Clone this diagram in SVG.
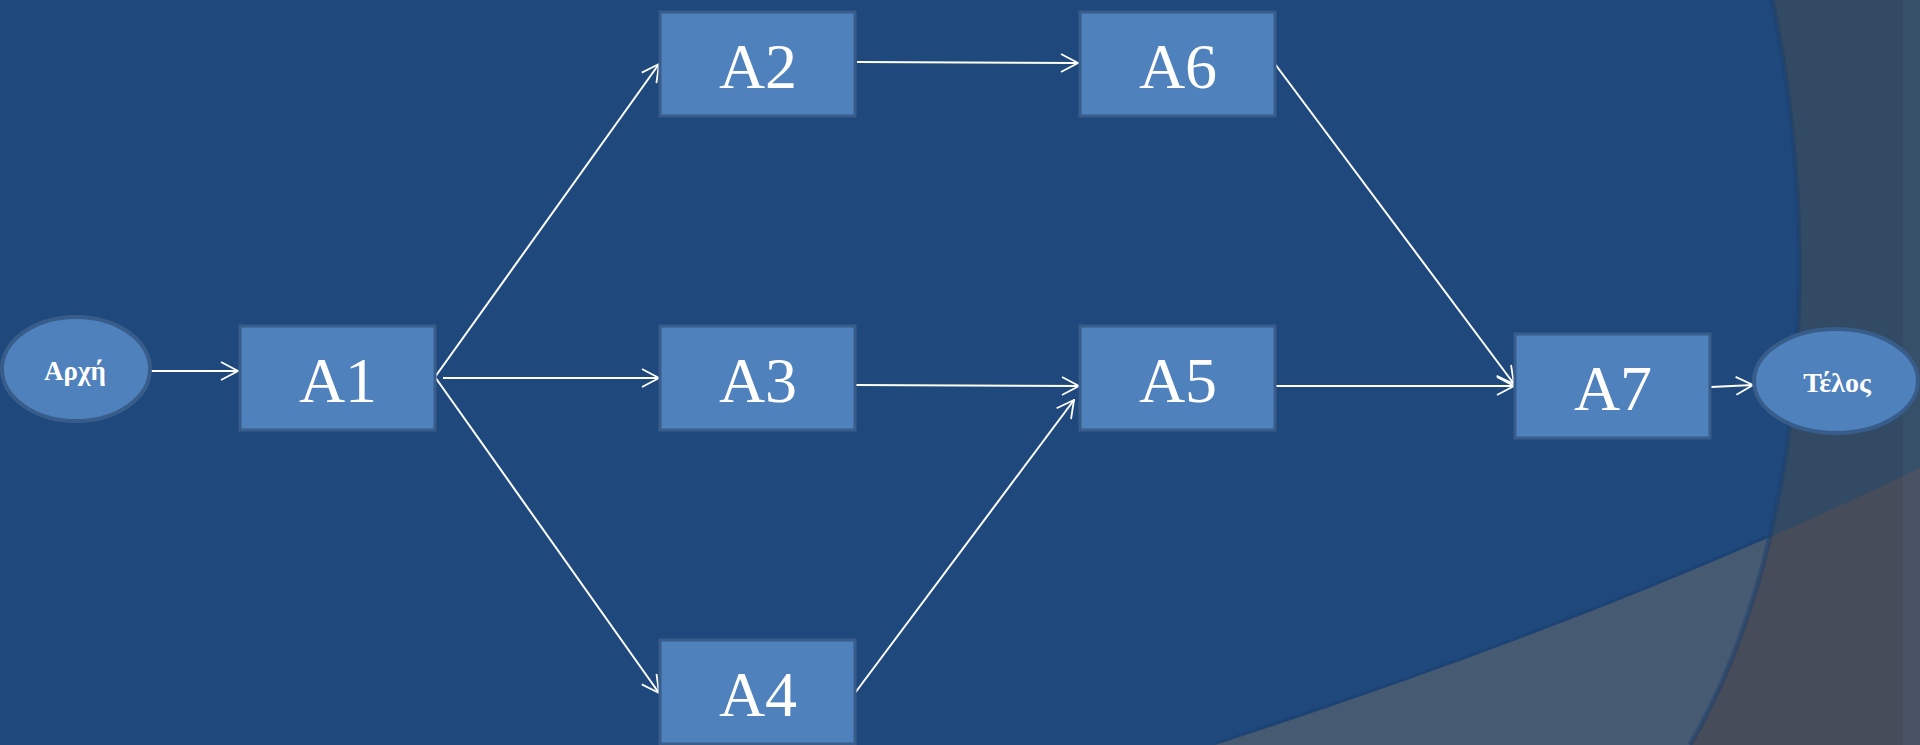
<svg xmlns="http://www.w3.org/2000/svg" width="1920" height="745" viewBox="0 0 1920 745">
<style>
.box{fill:#4f81bd;stroke:#385d8a;stroke-width:3}
.ell{fill:#4f81bd;stroke:#385d8a;stroke-width:4}
.lbl{font-family:"Liberation Serif","Times New Roman",serif;font-size:64px;fill:#ffffff;text-anchor:middle}
.sm{font-family:"Liberation Serif","Times New Roman",serif;font-size:27px;font-weight:bold;fill:#ffffff;text-anchor:middle}
.con{stroke:#ffffff;stroke-width:2;fill:none;marker-end:url(#arr)}
</style>
<defs>
<marker id="arr" viewBox="0 0 20 20" refX="19" refY="10" markerWidth="20" markerHeight="20" markerUnits="userSpaceOnUse" orient="auto">
<path d="M2,1 L19,10 L2,19" fill="none" stroke="#ffffff" stroke-width="1.8"/>
</marker>
<clipPath id="circ"><path d="M0,0 H1772 C1815,200 1820,520 1690,745 H0 Z"/></clipPath>
</defs>
<g id="background">
<rect x="0" y="0" width="1920" height="745" fill="#324a63"/>
<path d="M1215,745 Q1612,617 1920,468 V745 Z" fill="#464c5a"/>
<g clip-path="url(#circ)">
<rect x="0" y="0" width="1920" height="745" fill="#1f497d"/>
<path d="M1215,745 Q1612,617 1920,468" fill="none" stroke="#1a3e6a" stroke-width="6" opacity="0.5"/>
<path d="M1215,745 Q1612,617 1920,468 V745 Z" fill="#465a72"/>
</g>
<path d="M1772,0 C1815,200 1820,520 1690,745" fill="none" stroke="#1b3f6c" stroke-width="5" opacity="0.45"/>
<rect x="1903" y="0" width="17" height="745" fill="#6a8ab0" opacity="0.1"/>
</g>
<g id="connectors">
<line class="con" x1="150" y1="371" x2="238" y2="371"/>
<line class="con" x1="435" y1="377" x2="659" y2="64"/>
<line class="con" x1="443" y1="378" x2="659" y2="378"/>
<line class="con" x1="435" y1="377" x2="659" y2="693"/>
<line class="con" x1="857" y1="62" x2="1078" y2="63"/>
<line class="con" x1="855" y1="385" x2="1079" y2="386"/>
<line class="con" x1="855" y1="693" x2="1074" y2="400"/>
<line class="con" x1="1275" y1="64" x2="1514" y2="384"/>
<line class="con" x1="1275" y1="386" x2="1514" y2="386"/>
<line class="con" x1="1711" y1="387" x2="1753" y2="385"/>
</g>
<g id="start"><ellipse class="ell" cx="76" cy="369" rx="74" ry="52"/><text class="sm" x="75" y="380">Αρχή</text></g>
<g id="A1"><rect class="box" x="240" y="326" width="195" height="104"/><text class="lbl" x="338" y="402">A1</text></g>
<g id="A2"><rect class="box" x="660" y="12" width="195" height="104"/><text class="lbl" x="758" y="88">A2</text></g>
<g id="A3"><rect class="box" x="660" y="326" width="195" height="104"/><text class="lbl" x="758" y="402">A3</text></g>
<g id="A4"><rect class="box" x="660" y="640" width="195" height="104"/><text class="lbl" x="758" y="716">A4</text></g>
<g id="A6"><rect class="box" x="1080" y="12" width="195" height="104"/><text class="lbl" x="1178" y="88">A6</text></g>
<g id="A5"><rect class="box" x="1080" y="326" width="195" height="104"/><text class="lbl" x="1178" y="402">A5</text></g>
<g id="A7"><rect class="box" x="1515" y="334" width="195" height="104"/><text class="lbl" x="1613" y="410">A7</text></g>
<g id="end"><ellipse class="ell" cx="1836" cy="381" rx="82" ry="52"/><text class="sm" x="1837" y="392" style="font-size:28px">Τέλος</text></g>
</svg>
